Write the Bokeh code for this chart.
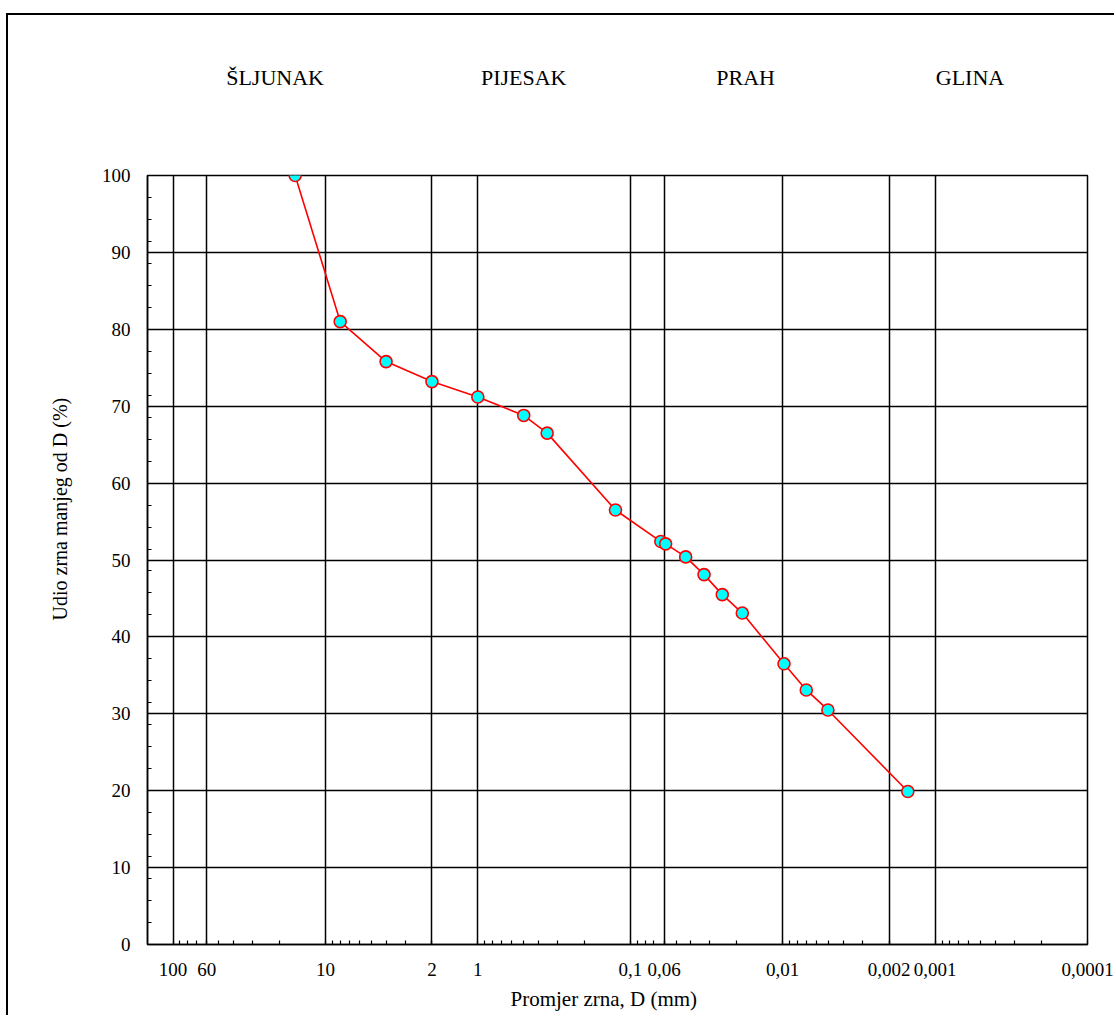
from bokeh.plotting import figure
from bokeh.models import Range1d, FixedTicker, LogAxis, Title, ColumnDataSource
from bokeh.embed import file_html
from bokeh.resources import INLINE

# ---- data ----
diameter_mm = [15.8, 8.0, 4.0, 2.0, 1.0, 0.5, 0.351, 0.125, 0.063, 0.0586,
               0.0433, 0.0328, 0.0249, 0.0184, 0.0098, 0.0070, 0.00505, 0.00151]
passing_pct = [100.0, 81.0, 75.8, 73.2, 71.2, 68.8, 66.5, 56.5, 52.4, 52.1,
               50.4, 48.1, 45.5, 43.1, 36.5, 33.1, 30.5, 19.9]

x_ticks = [100, 60, 10, 2, 1, 0.1, 0.06, 0.01, 0.002, 0.001, 0.0001]
x_tick_labels = ["100", "60", "10", "2", "1", "0,1", "0,06", "0,01",
                 "0,002", "0,001", "0,0001"]
y_ticks = [0, 10, 20, 30, 40, 50, 60, 70, 80, 90, 100]

categories = ["ŠLJUNAK", "PIJESAK", "PRAH", "GLINA"]
category_x = [21.4, 0.5, 0.0175, 0.00059]

x_title = "Promjer zrna, D (mm)"
y_title = "Udio zrna manjeg od D (%)"

FONT = "Liberation Serif"

p = figure(width=1108, height=1002, x_axis_type="log",
           x_range=Range1d(147, 0.0001), y_range=Range1d(0, 100),
           output_backend="svg", toolbar_location=None,
           min_border_left=139, min_border_right=29,
           min_border_top=160, min_border_bottom=73)
p.styles = {"border-left": "2px solid black", "border-top": "2px solid black",
            "margin-top": "13px", "margin-left": "6px"}
p.background_fill_color = "white"
p.border_fill_color = "white"
p.outline_line_color = "black"
p.outline_line_width = 1.5

minor_x = [m * 10 ** e for e in range(-4, 3) for m in range(2, 10)
           if 0.0001 < m * 10 ** e < 147]
p.xaxis.ticker = FixedTicker(ticks=x_ticks, minor_ticks=minor_x)
p.xaxis.major_label_overrides = dict(zip(x_ticks, x_tick_labels))
p.yaxis.ticker = FixedTicker(ticks=y_ticks,
                             minor_ticks=[i * 100 / 35 for i in range(36)])

for ax in (p.xaxis[0], p.yaxis[0]):
    ax.axis_line_color = "black"
    ax.axis_line_width = 1.5
    ax.major_tick_in = 4
    ax.major_tick_out = 0
    ax.minor_tick_in = 4
    ax.minor_tick_out = 0
    ax.major_tick_line_color = "black"
    ax.minor_tick_line_color = "black"
    ax.major_tick_line_width = 1.2
    ax.minor_tick_line_width = 1.2
    ax.major_label_text_font = FONT
    ax.major_label_text_font_size = "19px"
    ax.major_label_text_color = "black"
p.xaxis.major_label_standoff = 18
p.yaxis.major_label_standoff = 17

for g in (p.xgrid[0], p.ygrid[0]):
    g.grid_line_color = "black"
    g.grid_line_width = 1.5
    g.grid_line_alpha = 1.0

src = ColumnDataSource(dict(d=diameter_mm, pct=passing_pct))
p.line("d", "pct", source=src, line_color="red", line_width=1.6)
p.scatter("d", "pct", source=src, size=12, fill_color="#00FFFF",
          line_color="red", line_width=1.6)

# zone names above the chart, as a label-only axis
zone_axis = LogAxis(ticker=FixedTicker(ticks=category_x),
                    major_label_overrides=dict(zip(category_x, categories)),
                    axis_line_color=None, major_tick_line_color=None,
                    minor_tick_line_color=None, major_label_standoff=80,
                    major_label_text_font=FONT, major_label_text_font_size="22px",
                    major_label_text_color="black")
p.add_layout(zone_axis, "above")

# axis titles
p.add_layout(Title(text=x_title, align="left", offset=363, standoff=13,
                   text_font=FONT, text_font_size="21px", text_font_style="normal",
                   text_color="black"), "below")
p.add_layout(Title(text=y_title, align="left", offset=324, standoff=56,
                   text_font=FONT, text_font_size="20px", text_font_style="normal",
                   text_color="black"), "left")

open("out.html", "w").write(file_html(p, INLINE))
